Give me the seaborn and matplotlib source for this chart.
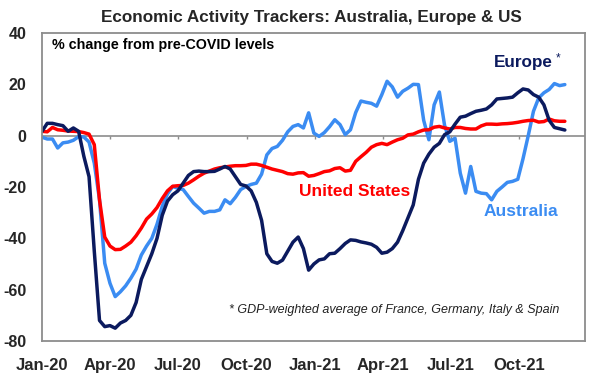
import matplotlib
matplotlib.use("Agg")
import matplotlib.pyplot as plt
import seaborn as sns
import pandas as pd
import numpy as np

# ---- data (weekly, % change from pre-COVID levels) ----
start_date = "2020-01-01"
n_weeks = 101

europe = [1.7, 4.8, 4.8, 4.3, 3.9, 1.7, 3.0, 1.7, -8.0, -16.0,
          -45.0, -72.0, -74.4, -74.0, -75.0, -73.0, -72.0, -70.0, -65.0, -56.0,
          -51.0, -46.0, -40.0, -31.0, -25.5, -23.0, -21.5, -18.5, -15.5, -14.0,
          -13.8, -14.0, -14.0, -13.9, -13.0, -12.0, -13.0, -16.0, -19.0, -19.6,
          -21.5, -26.0, -33.0, -46.0, -49.0, -49.7, -48.5, -45.0, -41.5, -39.5,
          -44.0, -52.4, -50.0, -48.4, -48.0, -46.0, -45.8, -44.0, -42.0, -40.6,
          -40.8, -41.4, -41.8, -42.3, -43.5, -45.8, -45.4, -44.0, -41.5, -37.0,
          -32.0, -27.0, -17.0, -10.7, -7.2, -4.5, -3.0, 0.4, 1.5, 4.5,
          7.2, 7.6, 8.6, 9.5, 9.9, 10.4, 12.0, 14.3, 14.5, 14.7,
          15.0, 16.7, 18.2, 17.8, 16.0, 15.0, 12.0, 6.0, 3.2, 2.7,
          2.2]

us = [1.7, 1.5, 3.2, 2.3, 2.1, 1.8, 1.7, 1.6, 1.2, 0.6,
      -3.5, -25.0, -39.5, -43.0, -44.4, -44.3, -43.0, -41.5, -39.0, -36.0,
      -32.5, -30.5, -28.0, -24.5, -21.5, -19.7, -19.5, -19.4, -18.5, -17.2,
      -15.8, -14.6, -13.8, -13.0, -12.5, -12.2, -11.9, -11.7, -11.7, -11.6,
      -11.1, -11.1, -11.6, -12.3, -13.0, -13.5, -14.0, -14.8, -15.0, -14.5,
      -14.4, -15.8, -15.5, -14.8, -14.0, -13.7, -12.8, -12.5, -13.8, -13.5,
      -10.0, -8.2, -6.5, -4.5, -3.5, -3.0, -3.5, -2.5, -1.6, -1.0,
      0.3, 0.6, 1.5, 2.2, 2.3, 3.3, 3.6, 3.0, 2.6, 3.2,
      3.2, 2.8, 2.6, 2.6, 3.8, 4.5, 4.5, 4.4, 4.6, 4.7,
      4.9, 5.2, 5.6, 5.9, 6.0, 5.3, 5.5, 6.5, 5.8, 5.6,
      5.6]

australia = [-0.6, -1.3, -1.3, -4.8, -2.8, -2.5, -1.8, -0.4, -0.5, -2.5,
             -10.7, -25.0, -49.7, -57.5, -62.7, -60.8, -58.5, -55.5, -52.0, -46.5,
             -43.0, -40.0, -34.5, -27.5, -22.7, -19.8, -20.5, -21.0, -23.7, -26.3,
             -28.2, -30.2, -29.5, -29.5, -28.9, -25.0, -26.5, -24.0, -21.0, -19.8,
             -19.0, -18.5, -15.0, -7.5, -5.0, -4.2, -1.8, 1.5, 3.6, 4.3,
             3.0, 8.9, 1.0, -0.3, 1.2, 3.5, 6.2, 4.3, 0.4, 2.3,
             9.0, 13.5, 13.0, 12.6, 11.5, 16.0, 21.2, 19.0, 15.0, 17.3,
             18.5, 20.0, 19.9, 6.0, -1.6, 12.0, 17.0, 4.0, -2.2, -1.0,
             -14.6, -22.4, -12.0, -21.7, -22.4, -22.6, -25.0, -21.7, -20.0, -18.2,
             -17.8, -17.0, -9.0, 0.0, 9.5, 14.7, 16.7, 18.0, 20.3, 19.5,
             19.9]

tick_labels = ["Jan-20", "Apr-20", "Jul-20", "Oct-20",
               "Jan-21", "Apr-21", "Jul-21", "Oct-21"]
tick_dates = ["2020-01-01", "2020-04-01", "2020-07-01", "2020-10-01",
              "2021-01-01", "2021-04-01", "2021-07-01", "2021-10-01"]
y_ticks = [-80, -60, -40, -20, 0, 20, 40]

dates = pd.date_range(start_date, periods=n_weeks, freq="7D")
df = pd.DataFrame({"date": dates, "Europe": europe,
                   "United States": us, "Australia": australia})
long = df.melt(id_vars="date", var_name="series", value_name="value")

# ---- style ----
sns.set_style("white")
plt.rcParams["font.family"] = ["Liberation Sans", "DejaVu Sans"]

c_eu = "#0B1A5E"
c_us = "#FF0000"
c_au = "#3B8CF2"
palette = {"Europe": c_eu, "United States": c_us, "Australia": c_au}

fig = plt.figure(figsize=(6.02, 3.87), dpi=100)
ax = fig.add_axes([42 / 602, 46 / 387, 543 / 602, 308 / 387])

sns.lineplot(data=long, x="date", y="value", hue="series",
             hue_order=["Australia", "United States", "Europe"],
             palette=palette, linewidth=2.5, legend=False, ax=ax)

ax.set_xlim(pd.Timestamp("2020-01-01"), pd.Timestamp("2021-12-28"))
ax.set_ylim(-80, 40)
ax.set_yticks(y_ticks)
ax.set_yticklabels([str(v) for v in y_ticks], fontsize=11.5, fontweight="bold")
tick_ts = pd.to_datetime(tick_dates)
ax.set_xticks(tick_ts)
ax.set_xticklabels(tick_labels, fontsize=12, fontweight="bold")
ax.tick_params(axis="both", length=0)
ax.tick_params(axis="y", pad=11)
ax.tick_params(axis="x", pad=12)
ax.set_xlabel("")
ax.set_ylabel("")

for s in ax.spines.values():
    s.set_color("#8C8C8C")
    s.set_linewidth(1.3)

# zero line with small tick marks
ax.axhline(0, color="#8C8C8C", linewidth=1.2, zorder=1)
ax.vlines(tick_ts[1:], -1.3, 0, color="#8C8C8C", linewidth=1.0, zorder=1)

# annotations
ax.text(0.0184, 0.961, "% change from pre-COVID levels", transform=ax.transAxes,
        fontsize=10.3, fontweight="bold", ha="left", va="center", color="black")
ax.text(0.886, 0.9026, "Europe", transform=ax.transAxes, fontsize=12.3,
        fontweight="bold", ha="center", va="center", color=c_eu)
ax.text(0.950, 0.918, "*", transform=ax.transAxes, fontsize=8.5,
        ha="center", va="center", color=c_eu)
ax.text(0.5764, 0.4838, "United States", transform=ax.transAxes, fontsize=12.5,
        fontweight="bold", ha="center", va="center", color=c_us)
ax.text(0.882, 0.419, "Australia", transform=ax.transAxes, fontsize=12.5,
        fontweight="bold", ha="center", va="center", color=c_au)
ax.text(0.952, 0.1006,
        "* GDP-weighted average of France, Germany, Italy & Spain",
        transform=ax.transAxes, fontsize=9, style="italic",
        ha="right", va="center", color="#222222")

fig.text(0.518, 0.956, "Economic Activity Trackers: Australia, Europe & US",
         fontsize=12.3, fontweight="bold", ha="center", va="center")

fig.savefig("out.png", dpi=100)
